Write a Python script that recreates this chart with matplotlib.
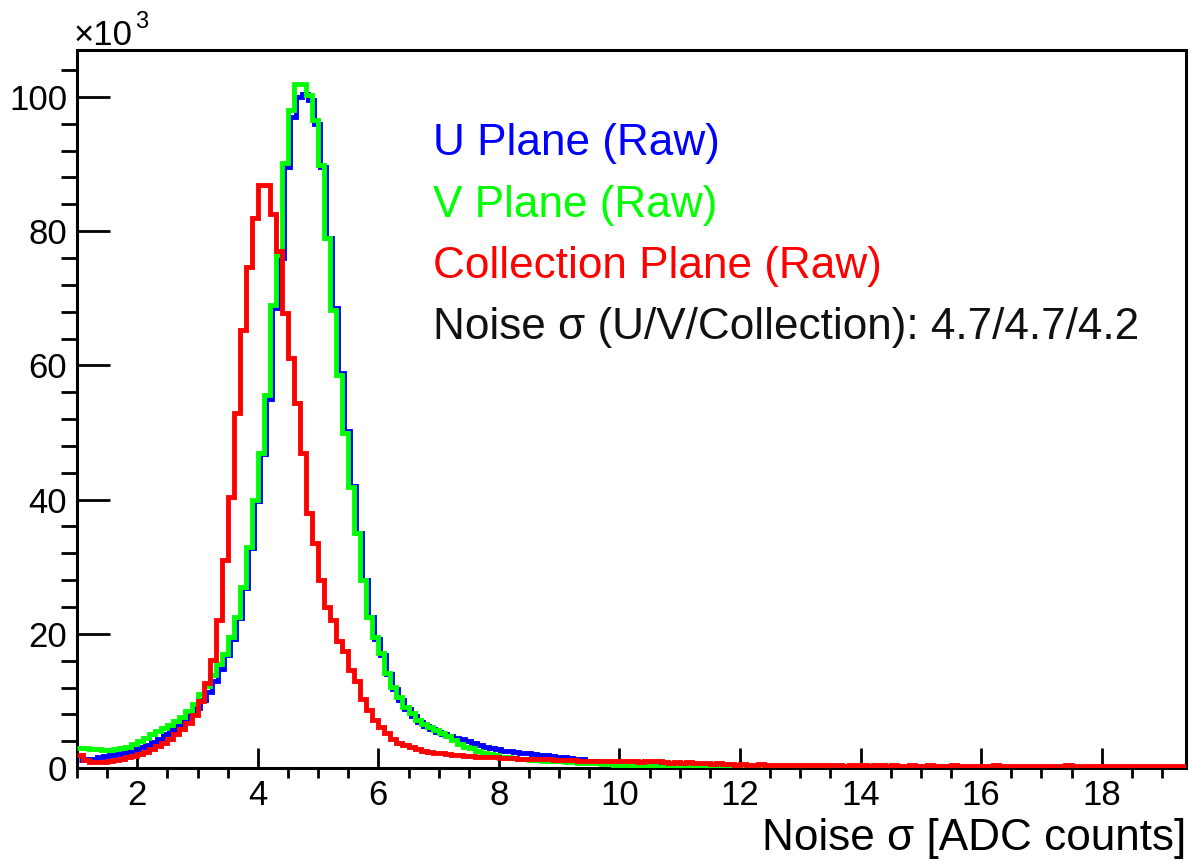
import numpy as np
import matplotlib

matplotlib.use("Agg")
import matplotlib.pyplot as plt
import matplotlib.transforms as mtransforms
from matplotlib.ticker import MultipleLocator

# histogram bins: 0.1 wide, from 1.0 to 19.4 (counts in units of 10^3)
bin_lo, bin_hi = 1.0, 19.4

u_plane = [
    1.2, 1.3, 1.4, 1.6, 1.8, 1.9, 2.1, 2.3, 2.5, 2.8,
    3.1, 3.5, 3.9, 4.4, 5.0, 5.6, 6.3, 7.1, 8.0, 9.0,
    10.2, 11.4, 13.0, 14.8, 16.8, 19.2, 22.3, 26.8, 32.8, 39.8,
    46.8, 55.0, 68.5, 76.0, 89.5, 97.0, 100.0, 100.5, 99.5, 96.0,
    89.5, 79.0, 68.5, 58.8, 50.2, 42.0, 35.0, 28.0, 22.5, 19.3,
    16.8, 14.0, 11.8, 10.2, 8.8, 7.8, 6.9, 6.3, 5.8, 5.4,
    5.1, 4.8, 4.5, 4.3, 4.1, 3.8, 3.5, 3.2, 3.0, 2.8,
    2.6, 2.5, 2.4, 2.3, 2.2, 2.1, 2.0, 1.9, 1.8, 1.7,
    1.6, 1.5, 1.4, 1.3, 1.1, 1.0, 0.9, 0.8, 0.7, 0.6,
    0.5, 0.5, 0.5, 0.4, 0.4, 0.4, 0.4, 0.4, 0.3, 0.3,
    0.3, 0.3, 0.3, 0.3, 0.3, 0.3, 0.3, 0.3, 0.3, 0.3,
    0.3, 0.3, 0.3, 0.3, 0.3, 0.3, 0.3, 0.3, 0.3, 0.3,
    0.3, 0.2, 0.2, 0.2, 0.2, 0.2, 0.2, 0.2, 0.2, 0.2,
    0.2, 0.2, 0.2, 0.2, 0.2, 0.2, 0.2, 0.2, 0.2, 0.2,
    0.2, 0.2, 0.2, 0.2, 0.2, 0.2, 0.2, 0.2, 0.2, 0.2,
    0.2, 0.2, 0.2, 0.2, 0.2, 0.2, 0.2, 0.2, 0.2, 0.2,
    0.2, 0.2, 0.2, 0.2, 0.2, 0.2, 0.2, 0.2, 0.2, 0.2,
    0.2, 0.2, 0.2, 0.2, 0.2, 0.2, 0.2, 0.2, 0.2, 0.2,
    0.2, 0.2, 0.2, 0.2,
]

v_plane = [
    3.0, 3.0, 2.9, 2.8, 2.7, 2.7, 2.8, 3.0, 3.2, 3.6,
    4.1, 4.5, 5.0, 5.5, 6.0, 6.4, 7.0, 7.6, 8.5, 9.5,
    11.0, 12.2, 13.8, 15.5, 17.0, 19.5, 22.5, 27.0, 33.0, 40.0,
    47.0, 55.6, 69.0, 76.5, 90.2, 98.0, 102.0, 102.0, 100.3, 96.6,
    89.9, 79.0, 68.3, 58.6, 50.0, 41.9, 35.0, 28.0, 22.5, 19.5,
    17.1, 14.2, 12.1, 10.6, 9.1, 8.2, 7.2, 6.6, 6.1, 5.6,
    5.2, 4.7, 4.2, 3.6, 3.2, 3.0, 2.6, 2.3, 2.1, 1.9,
    1.7, 1.6, 1.5, 1.4, 1.3, 1.2, 1.2, 1.1, 1.1, 1.0,
    1.0, 0.9, 0.9, 0.8, 0.8, 0.7, 0.7, 0.6, 0.6, 0.5,
    0.4, 0.4, 0.3, 0.3, 0.3, 0.3, 0.2, 0.2, 0.2, 0.2,
    0.2, 0.2, 0.2, 0.2, 0.2, 0.2, 0.2, 0.2, 0.2, 0.2,
    0.2, 0.2, 0.2, 0.2, 0.2, 0.2, 0.2, 0.2, 0.2, 0.2,
    0.2, 0.2, 0.2, 0.2, 0.2, 0.2, 0.2, 0.2, 0.2, 0.2,
    0.1, 0.1, 0.1, 0.1, 0.1, 0.1, 0.1, 0.1, 0.1, 0.1,
    0.1, 0.1, 0.1, 0.1, 0.1, 0.1, 0.1, 0.1, 0.1, 0.1,
    0.1, 0.1, 0.1, 0.1, 0.1, 0.1, 0.1, 0.1, 0.1, 0.1,
    0.1, 0.1, 0.1, 0.1, 0.1, 0.1, 0.1, 0.1, 0.1, 0.1,
    0.1, 0.1, 0.1, 0.1, 0.1, 0.1, 0.1, 0.1, 0.1, 0.1,
    0.1, 0.1, 0.1, 0.1,
]

collection_plane = [
    1.9, 1.2, 0.9, 0.9, 0.9, 1.0, 1.2, 1.4, 1.6, 1.8,
    2.1, 2.4, 2.8, 3.3, 3.8, 4.4, 5.0, 5.8, 6.7, 7.9,
    10.0, 12.7, 16.1, 22.1, 31.0, 40.4, 52.9, 65.3, 74.7, 81.9,
    86.9, 86.9, 82.6, 77.0, 67.8, 61.1, 54.4, 47.0, 38.0, 33.5,
    28.0, 24.0, 22.0, 19.0, 17.5, 14.6, 13.0, 10.3, 8.6, 7.2,
    6.1, 5.2, 4.4, 3.8, 3.4, 3.1, 2.8, 2.5, 2.4, 2.3,
    2.2, 2.1, 2.0, 1.9, 1.8, 1.8, 1.7, 1.7, 1.6, 1.6,
    1.5, 1.5, 1.5, 1.4, 1.4, 1.4, 1.3, 1.3, 1.3, 1.2,
    1.2, 1.2, 1.2, 1.1, 1.1, 1.1, 1.1, 1.0, 1.0, 1.0,
    1.0, 1.1, 1.0, 0.9, 1.0, 1.1, 1.0, 0.9, 0.8, 0.9,
    0.8, 0.9, 0.7, 0.8, 0.7, 0.6, 0.7, 0.6, 0.6, 0.5,
    0.6, 0.5, 0.5, 0.6, 0.5, 0.5, 0.4, 0.5, 0.5, 0.4,
    0.5, 0.4, 0.4, 0.5, 0.4, 0.4, 0.4, 0.3, 0.4, 0.4,
    0.4, 0.3, 0.4, 0.4, 0.3, 0.4, 0.3, 0.3, 0.4, 0.3,
    0.3, 0.4, 0.3, 0.3, 0.3, 0.4, 0.3, 0.3, 0.3, 0.3,
    0.3, 0.3, 0.4, 0.3, 0.3, 0.3, 0.3, 0.3, 0.3, 0.3,
    0.3, 0.3, 0.3, 0.3, 0.4, 0.3, 0.3, 0.3, 0.3, 0.3,
    0.3, 0.3, 0.3, 0.3, 0.3, 0.3, 0.3, 0.3, 0.3, 0.3,
    0.3, 0.3, 0.3, 0.3,
]

labels = ["U Plane (Raw)", "V Plane (Raw)", "Collection Plane (Raw)"]
colors = ["#0000ff", "#00ff00", "#ff0000"]
noise_text = "Noise \u03c3 (U/V/Collection): 4.7/4.7/4.2"

plt.rcParams["font.family"] = ["Liberation Sans", "DejaVu Sans"]

edges = np.linspace(bin_lo, bin_hi, len(u_plane) + 1)

fig = plt.figure(figsize=(11.92, 8.65), dpi=100)
ax = fig.add_axes([0.0646, 0.1121, 0.9304, 0.8301])

# blue sits just under the green one, nudged a couple of pixels right
shift = mtransforms.offset_copy(ax.transData, fig=fig, x=2, y=0, units="dots")
ax.stairs(u_plane, edges, color=colors[0], lw=3.5, baseline=None, transform=shift, zorder=2)
ax.stairs(v_plane, edges, color=colors[1], lw=3.5, baseline=None, zorder=3)
ax.stairs(collection_plane, edges, color=colors[2], lw=3.5, baseline=None, zorder=4)

ax.set_xlim(bin_lo, bin_hi)
ax.set_ylim(0, 107)

ax.xaxis.set_major_locator(MultipleLocator(2))
ax.xaxis.set_minor_locator(MultipleLocator(0.5))
ax.yaxis.set_major_locator(MultipleLocator(20))
ax.yaxis.set_minor_locator(MultipleLocator(4))
ax.tick_params(direction="in", top=False, right=False, width=2, labelsize=25)
ax.tick_params(axis="x", which="major", length=14.5, pad=8)
ax.tick_params(axis="x", which="minor", length=7.5, width=2)
ax.tick_params(axis="y", which="major", length=24, pad=7)
ax.tick_params(axis="y", which="minor", length=11.5, width=2)
ax.set_xticks([2, 4, 6, 8, 10, 12, 14, 16, 18])
for side in ax.spines.values():
    side.set_linewidth(2.2)

ax.set_xlabel("Noise \u03c3 [ADC counts]", fontsize=31.8, loc="right", labelpad=4)

text_y = [0.870, 0.784, 0.699]
for label, color, ty in zip(labels, colors, text_y):
    ax.text(0.321, ty, label, color=color, fontsize=31.8, va="center", transform=ax.transAxes)
ax.text(0.321, 0.613, noise_text, color="#111111", fontsize=31.8, va="center", transform=ax.transAxes)

# ROOT-style axis multiplier
fig.text(0.062, 0.948, "\u00d710", fontsize=25, ha="left", va="baseline")
fig.text(0.1135, 0.968, "3", fontsize=17, ha="left", va="baseline")

fig.savefig("out.png", dpi=100)
